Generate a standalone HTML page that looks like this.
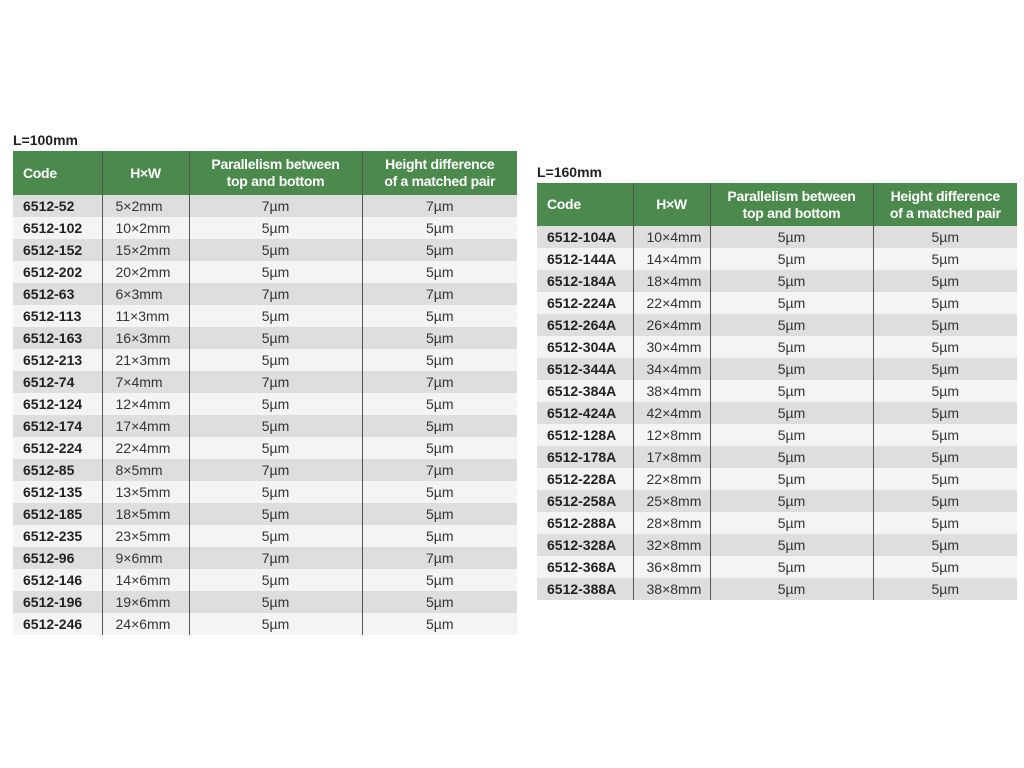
<!DOCTYPE html><html><head><style>
body{margin:0;width:1024px;height:768px;background:#fff;position:relative;font-family:"Liberation Sans",Arial,sans-serif;overflow:hidden}
.t{position:absolute;font-weight:bold;font-size:14px;color:#222}
table{position:absolute;border-collapse:collapse;font-size:14px;color:#333;table-layout:fixed}
th{background:#4b8a4c;color:#fff;font-weight:bold;font-size:14px;line-height:17px;padding:0;border-left:1.5px solid #555;letter-spacing:-0.3px;white-space:nowrap}
th:first-child,td:first-child{border-left:none;text-align:left;padding-left:10px}
td{padding:0;text-align:center;border-left:1.5px solid #555;white-space:nowrap;height:22px;line-height:22px}
td:first-child{font-weight:bold;color:#222}
td:nth-child(2){text-align:left;padding-left:13px}
tr:nth-child(odd) td{background:#dedede}
tr:nth-child(even) td{background:#f4f4f4}
</style></head><body>
<div class="t" style="left:13px;top:132px">L=100mm</div>
<table style="left:13px;top:151px;width:504px">
<colgroup><col style="width:89px"><col style="width:87px"><col style="width:173px"><col style="width:155px"></colgroup>
<thead><tr style="height:44px"><th>Code</th><th>H×W</th><th>Parallelism between<br>top and bottom</th><th>Height difference<br>of a matched pair</th></tr></thead>
<tbody>
<tr><td>6512-52</td><td>5×2mm</td><td>7µm</td><td>7µm</td></tr>
<tr><td>6512-102</td><td>10×2mm</td><td>5µm</td><td>5µm</td></tr>
<tr><td>6512-152</td><td>15×2mm</td><td>5µm</td><td>5µm</td></tr>
<tr><td>6512-202</td><td>20×2mm</td><td>5µm</td><td>5µm</td></tr>
<tr><td>6512-63</td><td>6×3mm</td><td>7µm</td><td>7µm</td></tr>
<tr><td>6512-113</td><td>11×3mm</td><td>5µm</td><td>5µm</td></tr>
<tr><td>6512-163</td><td>16×3mm</td><td>5µm</td><td>5µm</td></tr>
<tr><td>6512-213</td><td>21×3mm</td><td>5µm</td><td>5µm</td></tr>
<tr><td>6512-74</td><td>7×4mm</td><td>7µm</td><td>7µm</td></tr>
<tr><td>6512-124</td><td>12×4mm</td><td>5µm</td><td>5µm</td></tr>
<tr><td>6512-174</td><td>17×4mm</td><td>5µm</td><td>5µm</td></tr>
<tr><td>6512-224</td><td>22×4mm</td><td>5µm</td><td>5µm</td></tr>
<tr><td>6512-85</td><td>8×5mm</td><td>7µm</td><td>7µm</td></tr>
<tr><td>6512-135</td><td>13×5mm</td><td>5µm</td><td>5µm</td></tr>
<tr><td>6512-185</td><td>18×5mm</td><td>5µm</td><td>5µm</td></tr>
<tr><td>6512-235</td><td>23×5mm</td><td>5µm</td><td>5µm</td></tr>
<tr><td>6512-96</td><td>9×6mm</td><td>7µm</td><td>7µm</td></tr>
<tr><td>6512-146</td><td>14×6mm</td><td>5µm</td><td>5µm</td></tr>
<tr><td>6512-196</td><td>19×6mm</td><td>5µm</td><td>5µm</td></tr>
<tr><td>6512-246</td><td>24×6mm</td><td>5µm</td><td>5µm</td></tr>
</tbody></table>
<div class="t" style="left:537px;top:164px">L=160mm</div>
<table style="left:537px;top:183px;width:480px">
<colgroup><col style="width:96px"><col style="width:77px"><col style="width:163px"><col style="width:144px"></colgroup>
<thead><tr style="height:43px"><th>Code</th><th>H×W</th><th>Parallelism between<br>top and bottom</th><th>Height difference<br>of a matched pair</th></tr></thead>
<tbody>
<tr><td>6512-104A</td><td>10×4mm</td><td>5µm</td><td>5µm</td></tr>
<tr><td>6512-144A</td><td>14×4mm</td><td>5µm</td><td>5µm</td></tr>
<tr><td>6512-184A</td><td>18×4mm</td><td>5µm</td><td>5µm</td></tr>
<tr><td>6512-224A</td><td>22×4mm</td><td>5µm</td><td>5µm</td></tr>
<tr><td>6512-264A</td><td>26×4mm</td><td>5µm</td><td>5µm</td></tr>
<tr><td>6512-304A</td><td>30×4mm</td><td>5µm</td><td>5µm</td></tr>
<tr><td>6512-344A</td><td>34×4mm</td><td>5µm</td><td>5µm</td></tr>
<tr><td>6512-384A</td><td>38×4mm</td><td>5µm</td><td>5µm</td></tr>
<tr><td>6512-424A</td><td>42×4mm</td><td>5µm</td><td>5µm</td></tr>
<tr><td>6512-128A</td><td>12×8mm</td><td>5µm</td><td>5µm</td></tr>
<tr><td>6512-178A</td><td>17×8mm</td><td>5µm</td><td>5µm</td></tr>
<tr><td>6512-228A</td><td>22×8mm</td><td>5µm</td><td>5µm</td></tr>
<tr><td>6512-258A</td><td>25×8mm</td><td>5µm</td><td>5µm</td></tr>
<tr><td>6512-288A</td><td>28×8mm</td><td>5µm</td><td>5µm</td></tr>
<tr><td>6512-328A</td><td>32×8mm</td><td>5µm</td><td>5µm</td></tr>
<tr><td>6512-368A</td><td>36×8mm</td><td>5µm</td><td>5µm</td></tr>
<tr><td>6512-388A</td><td>38×8mm</td><td>5µm</td><td>5µm</td></tr>
</tbody></table>
</body></html>
